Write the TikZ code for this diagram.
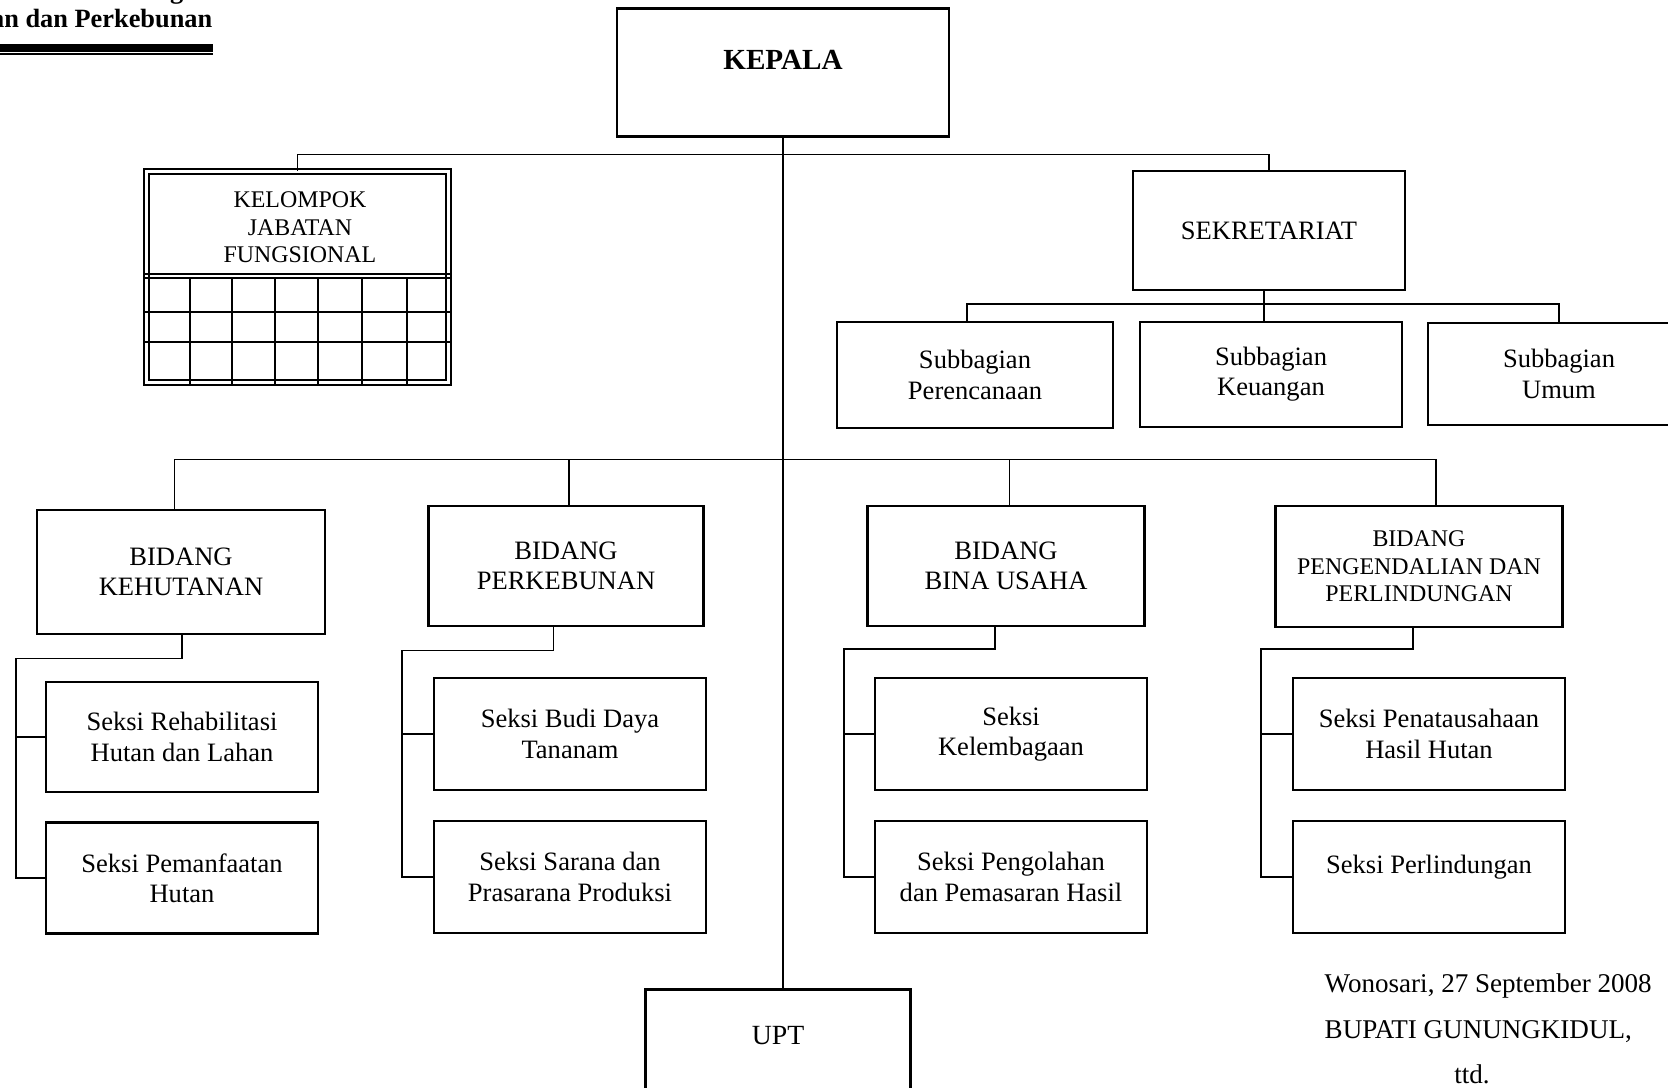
\documentclass[tikz,border=0pt]{standalone}
\usepackage{fontspec}
\setmainfont{Liberation Serif}

\begin{document}
\begin{tikzpicture}
    \path[use as bounding box] (0,0) rectangle (16.68,-10.88);

    \tikzset{ box/.style ={draw, line width=0.6pt, align=center, inner sep=1pt, font=\fontsize{7.55}{8.6}\selectfont} }
    \tikzset{ link/.style ={line width=0.45pt} }
    \tikzset{ note/.style ={inner sep=0pt, font=\fontsize{7.7}{9}\selectfont} }

    % kop kiri atas
    \node[inner sep=0pt, anchor=base east, font=\fontsize{7.5}{9}\selectfont\bfseries] (kopg) at (1.84, 0.02) {g};
    \node[inner sep=0pt, anchor=base east, font=\fontsize{7.5}{9}\selectfont\bfseries] (kop) at (2.13,-0.273) {an dan Perkebunan};
    \draw[line width=2.1pt] (0,-0.48) -- (2.13,-0.48);
    \draw[line width=0.5pt] (0,-0.542) -- (2.13,-0.542);

    % pimpinan
    \node[box, minimum width=3.32cm, minimum height=1.28cm, text depth=0.26cm, font=\fontsize{8.3}{10}\selectfont\bfseries] (kepala) at (7.83,-0.725) {KEPALA};

    % kelompok jabatan fungsional
    \node[draw, double, line width=0.5pt, double distance=0.92pt, minimum width=3.02cm, minimum height=2.11cm] (kjf) at (2.975,-2.77) {};
    \node[align=center, inner sep=0pt, font=\fontsize{6.8}{7.8}\selectfont] (kjft) at (3.00,-2.275) {KELOMPOK\\JABATAN\\FUNGSIONAL};
    \draw[line width=0.5pt] (1.44,-2.74) -- (4.51,-2.74);
    \draw[line width=0.5pt] (1.44,-2.78) -- (4.51,-2.78);
    \foreach \gy in {-3.123,-3.423}
        \draw[line width=0.5pt] (1.44,\gy) -- (4.51,\gy);
    \foreach \gx in {1.90,2.323,2.75,3.177,3.617,4.067}
        \draw[line width=0.5pt] (\gx,-2.78) -- (\gx,-3.85);

    % sekretariat
    \node[box, minimum width=2.72cm, minimum height=1.19cm] (sek) at (12.69,-2.305) {SEKRETARIAT};
    \node[box, minimum width=2.76cm, minimum height=1.06cm] (subp) at (9.75,-3.75)  {Subbagian\\Perencanaan};
    \node[box, minimum width=2.62cm, minimum height=1.05cm] (subk) at (12.71,-3.745) {Subbagian\\Keuangan};
    \node[box, minimum width=2.62cm, minimum height=1.02cm] (subu) at (15.59,-3.74) {Subbagian\\Umum};

    \draw[link] (kjf.north) -- ++(0,0.16) -| (sek.north);
    \coordinate (subrail) at (12.64,-3.04);
    \coordinate (subp-in) at (9.67,-3.04);
    \draw[link] (sek.south -| subrail) -- (subk.north -| subrail);
    \draw[link] (subp-in |- subp.north) -- (subp-in) -- (subrail) -| (subu.north);

    % UPT
    \node[box, minimum width=2.65cm, minimum height=1.30cm, text depth=0.39cm, font=\fontsize{7.9}{9}\selectfont] (upt) at (7.78,-10.545) {UPT};
    \draw[link] (kepala.south) -- (kepala.south |- upt.north);

    % bidang
    \node[box, minimum width=2.88cm, minimum height=1.245cm] (bkh) at (1.81,-5.72)  {BIDANG\\KEHUTANAN};
    \node[box, minimum width=2.75cm, minimum height=1.20cm]  (bkb) at (5.66,-5.66)  {BIDANG\\PERKEBUNAN};
    \node[box, minimum width=2.77cm, minimum height=1.20cm]  (bbi) at (10.06,-5.66) {BIDANG\\BINA USAHA};
    \node[box, minimum width=2.87cm, minimum height=1.205cm, font=\fontsize{6.8}{7.9}\selectfont] (bpp) at (14.19,-5.663) {BIDANG\\PENGENDALIAN DAN\\PERLINDUNGAN};

    \coordinate (bidrail-l) at (1.745,-4.595);
    \coordinate (bidrail-r) at (14.36,-4.595);
    \coordinate (bkb-in) at (5.69,-4.595);
    \coordinate (bbi-in) at (10.095,-4.595);
    \draw[link] (bidrail-l |- bkh.north) -- (bidrail-l) -- (bidrail-r) -- (bidrail-r |- bpp.north);
    \draw[link] (bkb-in) -- (bkb-in |- bkb.north);
    \draw[link] (bbi-in) -- (bbi-in |- bbi.north);

    % seksi
    \node[box, minimum width=2.72cm, minimum height=1.105cm] (skh1) at (1.82,-7.37)  {Seksi Rehabilitasi\\Hutan dan Lahan};
    \node[box, minimum width=2.72cm, minimum height=1.11cm]  (skh2) at (1.82,-8.78)  {Seksi Pemanfaatan\\Hutan};
    \node[box, minimum width=2.72cm, minimum height=1.125cm] (skb1) at (5.70,-7.34)  {Seksi Budi Daya\\Tananam};
    \node[box, minimum width=2.72cm, minimum height=1.12cm]  (skb2) at (5.70,-8.77)  {Seksi Sarana dan\\Prasarana Produksi};
    \node[box, minimum width=2.72cm, minimum height=1.125cm] (sbi1) at (10.11,-7.34) {Seksi\\Kelembagaan};
    \node[box, minimum width=2.72cm, minimum height=1.12cm]  (sbi2) at (10.11,-8.77) {Seksi Pengolahan\\dan Pemasaran Hasil};
    \node[box, minimum width=2.72cm, minimum height=1.125cm] (spp1) at (14.29,-7.34) {Seksi Penatausahaan\\Hasil Hutan};
    \node[box, minimum width=2.72cm, minimum height=1.12cm, text height=0.18cm, text depth=0.26cm] (spp2) at (14.29,-8.77) {Seksi Perlindungan};

    \coordinate (kh-knee) at (1.82,-6.585);  \coordinate (kh-rail) at (0.16,-6.585);
    \coordinate (kb-knee) at (5.535,-6.505); \coordinate (kb-rail) at (4.02,-6.505);
    \coordinate (bi-knee) at (9.95,-6.49);   \coordinate (bi-rail) at (8.44,-6.49);
    \coordinate (pp-knee) at (14.13,-6.49);  \coordinate (pp-rail) at (12.61,-6.49);

    \draw[link] (kh-knee |- bkh.south) -- (kh-knee) -- (kh-rail) |- (skh2.west);
    \draw[link] (kh-rail |- skh1.west) -- (skh1.west);
    \draw[link] (kb-knee |- bkb.south) -- (kb-knee) -- (kb-rail) |- (skb2.west);
    \draw[link] (kb-rail |- skb1.west) -- (skb1.west);
    \draw[link] (bi-knee |- bbi.south) -- (bi-knee) -- (bi-rail) |- (sbi2.west);
    \draw[link] (bi-rail |- sbi1.west) -- (sbi1.west);
    \draw[link] (pp-knee |- bpp.south) -- (pp-knee) -- (pp-rail) |- (spp2.west);
    \draw[link] (pp-rail |- spp1.west) -- (spp1.west);

    % pengesahan
    \node[note, anchor=base west] (tempat) at (13.24,-9.92) {Wonosari, 27 September 2008};
    \node[note, anchor=base west] (bupati) at (13.24,-10.38) {BUPATI GUNUNGKIDUL,};
    \node[note, anchor=base] (ttd) at (14.72,-10.835) {ttd.};
\end{tikzpicture}
\end{document}
